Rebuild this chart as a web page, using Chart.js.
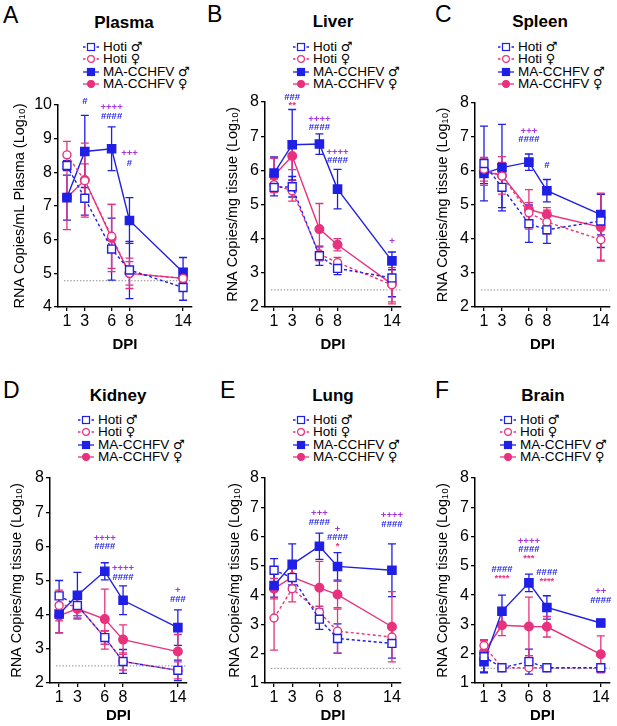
<!DOCTYPE html>
<html>
<head>
<meta charset="utf-8">
<script src="https://cdn.jsdelivr.net/npm/chart.js@4.4.1/dist/chart.umd.min.js"></script>
<style>
  html, body { margin: 0; padding: 0; background: #fff; }
  body { width: 617px; height: 726px; position: relative; overflow: hidden; font-family: 'Liberation Sans', Arial, sans-serif; color: #000; }
  canvas { position: absolute; }
  .letter { position: absolute; font-size: 23px; line-height: 23px; }
  .ptitle { position: absolute; font-size: 17px; line-height: 17px; font-weight: bold; text-align: center; width: 160px; }
  .leg { position: absolute; height: 12px; line-height: 12px; font-size: 13.5px; white-space: nowrap; display: flex; align-items: center; }
  .leg svg { margin-right: 4px; flex: none; }
  .sym { font-family: 'DejaVu Sans', sans-serif; font-size: 13px; }
</style>
</head>
<body>
<script>
// ---------- shared categories / labels ----------
const days = [1, 3, 6, 8, 14];
const dayTicks = [1, 3, 6, 8, 14];
const seriesGroups = ['Hoti', 'Hoti', 'MA-CCHFV', 'MA-CCHFV'];
const seriesSex = ['♂', '♀', '♂', '♀'];
const seriesNames = seriesGroups.map((g, i) => g + ' ' + seriesSex[i]);
const panelLetters = ['A', 'B', 'C', 'D', 'E', 'F'];
const panelTitles = ['Plasma', 'Liver', 'Spleen', 'Kidney', 'Lung', 'Brain'];
const yTitles = ['RNA Copies/mL Plasma (Log₁₀)', 'RNA Copies/mg tissue (Log₁₀)', 'RNA Copies/mg tissue (Log₁₀)',
                 'RNA Copies/mg tissue (Log₁₀)', 'RNA Copies/mg tissue (Log₁₀)', 'RNA Copies/mg tissue (Log₁₀)'];
const yMins = [4, 2, 2, 2, 1, 1];
const yMaxs = [10, 8, 8, 8, 8, 8];
const lodValues = [4.78, 2.5, 2.5, 2.5, 1.5, 1.5];

// ---------- Plasma ----------
const plasmaHotiM = [8.2, 7.23, 5.72, 5.1, 4.58];
const plasmaHotiMErr = [0.15, 0.5, 0.92, 0.85, 0.38];
const plasmaHotiF = [8.52, 7.75, 6.1, 5.0, 4.85];
const plasmaHotiFErr = [0.4, 0.5, 0.95, 0.45, 0.1];
const plasmaMaM = [7.25, 8.62, 8.7, 6.57, 5.03];
const plasmaMaMErr = [0.67, 1.07, 0.65, 0.68, 0.44];
const plasmaMaF = [7.25, 7.77, 6.05, 5.0, 4.85];
const plasmaMaFErr = [0.95, 1.1, 1.0, 0.35, 0.12];
const plasmaMarks = [[3, 10.1, '#'], [6, 9.92, '++++'], [6, 9.66, '####'], [8, 8.56, '+++'], [8, 8.28, '#']];

// ---------- Liver ----------
const liverHotiM = [5.5, 5.52, 3.5, 3.13, 2.85];
const liverHotiMErr = [0.25, 0.3, 0.28, 0.18, 0.55];
const liverHotiF = [5.58, 5.4, 3.55, 3.3, 2.65];
const liverHotiFErr = [0.2, 0.3, 0.2, 0.15, 0.5];
const liverMaM = [5.92, 6.75, 6.77, 5.45, 3.35];
const liverMaMErr = [0.47, 1.03, 0.3, 0.58, 0.26];
const liverMaF = [5.85, 6.42, 4.28, 3.82, 2.67];
const liverMaFErr = [0.5, 0.4, 0.75, 0.18, 0.58];
const liverMarks = [[3, 8.15, '###'], [3, 7.9, '**'], [6, 7.5, '++++'], [6, 7.27, '####'], [8, 6.53, '++++'], [8, 6.3, '####'], [14, 3.93, '+']];

// ---------- Spleen ----------
const spleenHotiM = [6.22, 5.52, 4.45, 4.27, 4.53];
const spleenHotiMErr = [1.1, 0.6, 0.55, 0.4, 0.78];
const spleenHotiF = [6.05, 5.85, 4.77, 4.5, 3.98];
const spleenHotiFErr = [0.35, 0.4, 0.3, 0.35, 0.6];
const spleenMaM = [5.93, 6.1, 6.26, 5.42, 4.72];
const spleenMaMErr = [0.3, 1.27, 0.24, 0.33, 0.6];
const spleenMaF = [5.98, 5.87, 4.87, 4.72, 4.35];
const spleenMaFErr = [0.4, 0.55, 0.58, 0.2, 1.0];
const spleenMarks = [[6, 7.16, '+++'], [6, 6.92, '####'], [8, 6.18, '#']];

// ---------- Kidney ----------
const kidneyHotiM = [4.55, 4.27, 3.33, 2.63, 2.37];
const kidneyHotiMErr = [0.45, 0.3, 0.2, 0.35, 0.3];
const kidneyHotiF = [4.27, 4.27, 3.33, 2.63, 2.37];
const kidneyHotiFErr = [0.45, 0.3, 0.2, 0.25, 0.25];
const kidneyMaM = [4.02, 4.57, 5.27, 4.42, 3.62];
const kidneyMaMErr = [0.55, 0.67, 0.25, 0.42, 0.52];
const kidneyMaF = [3.97, 4.17, 3.87, 3.27, 2.92];
const kidneyMaFErr = [0.5, 0.3, 0.88, 0.43, 0.5];
const kidneyMarks = [[6, 6.24, '++++'], [6, 6.0, '####'], [8, 5.35, '++++'], [8, 5.1, '####'], [14, 4.71, '+'], [14, 4.44, '###']];

// ---------- Lung ----------
const lungHotiM = [4.85, 4.6, 3.18, 2.52, 2.35];
const lungHotiMErr = [0.4, 0.3, 0.35, 0.5, 0.5];
const lungHotiF = [3.22, 4.22, 3.42, 2.77, 2.57];
const lungHotiFErr = [1.1, 0.45, 0.2, 0.75, 0.3];
const lungMaM = [4.33, 5.05, 5.67, 4.98, 4.85];
const lungMaMErr = [0.4, 0.7, 0.45, 0.47, 0.9];
const lungMaF = [4.22, 4.62, 4.25, 4.02, 2.92];
const lungMaFErr = [0.35, 0.3, 0.9, 0.45, 1.2];
const lungMarks = [[6, 6.8, '+++'], [6, 6.48, '####'], [8, 6.26, '+'], [8, 5.97, '####'], [8, 5.66, '*'], [14, 6.72, '++++'], [14, 6.43, '####']];

// ---------- Brain ----------
const brainHotiM = [1.9, 1.52, 1.73, 1.52, 1.52];
const brainHotiMErr = [0.55, 0, 0.43, 0, 0];
const brainHotiF = [2.28, 1.52, 1.52, 1.52, 1.52];
const brainHotiFErr = [0.2, 0, 0, 0, 0];
const brainMaM = [1.73, 3.45, 4.42, 3.58, 3.05];
const brainMaMErr = [0.35, 0.55, 0.3, 0.4, 0.12];
const brainMaF = [2.05, 2.97, 2.93, 2.92, 1.98];
const brainMaFErr = [0.4, 0.35, 1.0, 0.35, 0.63];
const brainMarks = [[3, 4.89, '####'], [3, 4.57, '****'], [6, 5.84, '++++'], [6, 5.55, '####'], [6, 5.24, '***'], [8, 4.79, '####'], [8, 4.47, '****'], [14, 4.13, '++'], [14, 3.82, '####']];

const panelValues = [
  [plasmaHotiM, plasmaHotiF, plasmaMaM, plasmaMaF],
  [liverHotiM, liverHotiF, liverMaM, liverMaF],
  [spleenHotiM, spleenHotiF, spleenMaM, spleenMaF],
  [kidneyHotiM, kidneyHotiF, kidneyMaM, kidneyMaF],
  [lungHotiM, lungHotiF, lungMaM, lungMaF],
  [brainHotiM, brainHotiF, brainMaM, brainMaF]
];
const panelErrors = [
  [plasmaHotiMErr, plasmaHotiFErr, plasmaMaMErr, plasmaMaFErr],
  [liverHotiMErr, liverHotiFErr, liverMaMErr, liverMaFErr],
  [spleenHotiMErr, spleenHotiFErr, spleenMaMErr, spleenMaFErr],
  [kidneyHotiMErr, kidneyHotiFErr, kidneyMaMErr, kidneyMaFErr],
  [lungHotiMErr, lungHotiFErr, lungMaMErr, lungMaFErr],
  [brainHotiMErr, brainHotiFErr, brainMaMErr, brainMaFErr]
];
const panelMarks = [plasmaMarks, liverMarks, spleenMarks, kidneyMarks, lungMarks, brainMarks];

// ---------- styling / layout ----------
const BLUE = '#1f1fe6';
const PINK = '#e8327d';
const PURPLE = '#a833e0';
const FONT = "'Liberation Sans', Arial, sans-serif";
const seriesStyles = [
  { color: BLUE, dashed: true, shape: 'rect', filled: false, radius: 5.6 },
  { color: PINK, dashed: true, shape: 'circle', filled: false, radius: 4 },
  { color: BLUE, dashed: false, shape: 'rect', filled: true, radius: 5.8 },
  { color: PINK, dashed: false, shape: 'circle', filled: true, radius: 4.3 }
];
const layouts = [
  { left: 0,   top: 0,   w: 205, h: 355, l: 58, r: 192, t: 105, b: 307, tp: 11, legX: 83,  legY: 47,  titleCx: 124, titleTop: 14,  letX: 3,   letTop: 4 },
  { left: 205, top: 0,   w: 205, h: 355, l: 60, r: 196, t: 102, b: 307, tp: 19, legX: 293, legY: 47,  titleCx: 333, titleTop: 13,  letX: 207, letTop: 3 },
  { left: 410, top: 0,   w: 207, h: 355, l: 65, r: 205, t: 103, b: 307, tp: 24, legX: 498, legY: 47,  titleCx: 540, titleTop: 13,  letX: 435, letTop: 3 },
  { left: 0,   top: 370, w: 205, h: 356, l: 50, r: 187, t: 108, b: 313, tp: 8,  legX: 78,  legY: 420, titleCx: 118, titleTop: 387, letX: 3,   letTop: 379 },
  { left: 205, top: 370, w: 205, h: 356, l: 60, r: 196, t: 108, b: 313, tp: 21, legX: 293, legY: 420, titleCx: 333, titleTop: 387, letX: 220, letTop: 379 },
  { left: 410, top: 370, w: 207, h: 356, l: 65, r: 201, t: 108, b: 313, tp: 24, legX: 500, legY: 420, titleCx: 543, titleTop: 387, letX: 435, letTop: 379 }
];

function markColor(txt) {
  if (txt[0] === '#') return BLUE;
  if (txt[0] === '*') return PINK;
  return PURPLE;
}

// ---------- plugins ----------
const lodPlugin = {
  id: 'lod',
  beforeDatasetsDraw(chart, args, opts) {
    const { ctx, chartArea, scales: { y } } = chart;
    const py = y.getPixelForValue(opts.value);
    ctx.save();
    ctx.strokeStyle = '#8a8a8a';
    ctx.lineWidth = 1;
    ctx.setLineDash([1.4, 1.8]);
    ctx.beginPath();
    ctx.moveTo(chartArea.left + 6, py);
    ctx.lineTo(chartArea.right, py);
    ctx.stroke();
    ctx.restore();
  }
};
const errorBarPlugin = {
  id: 'errbars',
  beforeDatasetsDraw(chart) {
    const { ctx, scales: { x, y } } = chart;
    chart.data.datasets.forEach((ds) => {
      if (!ds.errors) return;
      ctx.save();
      ctx.strokeStyle = ds.borderColor;
      ctx.lineWidth = 1.3;
      ctx.setLineDash([]);
      ds.data.forEach((p, j) => {
        const e = ds.errors[j];
        if (!e) return;
        const px = x.getPixelForValue(p.x);
        const top = y.getPixelForValue(p.y + e);
        const bot = y.getPixelForValue(p.y - e);
        ctx.beginPath();
        ctx.moveTo(px, top); ctx.lineTo(px, bot);
        ctx.moveTo(px - 4, top); ctx.lineTo(px + 4, top);
        ctx.moveTo(px - 4, bot); ctx.lineTo(px + 4, bot);
        ctx.stroke();
      });
      ctx.restore();
    });
  }
};
const marksPlugin = {
  id: 'sigmarks',
  afterDatasetsDraw(chart, args, opts) {
    const { ctx, scales: { x, y } } = chart;
    ctx.save();
    ctx.textAlign = 'center';
    ctx.textBaseline = 'middle';
    ctx.font = 'bold 9.5px ' + FONT;
    (opts.marks || []).forEach(([mx, my, txt]) => {
      ctx.fillStyle = markColor(txt);
      ctx.fillText(txt, x.getPixelForValue(mx), y.getPixelForValue(my));
    });
    ctx.restore();
  }
};

// ---------- legend markers (HTML) ----------
function legendSvg(st) {
  const dash = st.dashed ? ' stroke-dasharray="2.5,2"' : '';
  const fill = st.filled ? st.color : '#fff';
  const marker = st.shape === 'rect'
    ? `<rect x="4.5" y="1.5" width="7" height="7" fill="${fill}" stroke="${st.color}" stroke-width="1.2"/>`
    : `<circle cx="8" cy="5" r="3.4" fill="${fill}" stroke="${st.color}" stroke-width="1.2"/>`;
  return `<svg width="16" height="10" viewBox="0 0 16 10"><line x1="0" y1="5" x2="16" y2="5" stroke="${st.color}" stroke-width="1.3"${dash}/>${marker}</svg>`;
}

// ---------- build panels ----------
layouts.forEach((L, p) => {
  const letter = document.createElement('div');
  letter.className = 'letter';
  letter.style.left = L.letX + 'px';
  letter.style.top = L.letTop + 'px';
  letter.textContent = panelLetters[p];
  document.body.appendChild(letter);

  const title = document.createElement('div');
  title.className = 'ptitle';
  title.style.left = (L.titleCx - 80) + 'px';
  title.style.top = L.titleTop + 'px';
  title.textContent = panelTitles[p];
  document.body.appendChild(title);

  seriesGroups.forEach((g, s) => {
    const row = document.createElement('div');
    row.className = 'leg';
    row.style.left = L.legX + 'px';
    row.style.top = (L.legY - 6 + s * 12.3) + 'px';
    row.innerHTML = legendSvg(seriesStyles[s]) + '<span class="grp"></span>&nbsp;<span class="sym"></span>';
    row.querySelector('.grp').textContent = g;
    row.querySelector('.sym').textContent = seriesSex[s];
    document.body.appendChild(row);
  });

  const cv = document.createElement('canvas');
  cv.width = L.w; cv.height = L.h;
  cv.style.left = L.left + 'px'; cv.style.top = L.top + 'px';
  cv.style.width = L.w + 'px'; cv.style.height = L.h + 'px';
  document.body.appendChild(cv);

  const datasets = seriesNames.map((name, s) => {
    const st = seriesStyles[s];
    return {
      label: name,
      data: days.map((d, i) => ({ x: d, y: panelValues[p][s][i] })),
      errors: panelErrors[p][s],
      borderColor: st.color,
      backgroundColor: st.color,
      borderWidth: 1.4,
      borderDash: st.dashed ? [3, 2.5] : [],
      pointStyle: st.shape,
      pointRadius: st.radius,
      pointHoverRadius: st.radius,
      pointBorderWidth: 1.4,
      pointBorderColor: st.color,
      pointBackgroundColor: st.filled ? st.color : '#ffffff',
      tension: 0,
      fill: false,
      clip: false
    };
  });

  new Chart(cv, {
    type: 'line',
    data: { datasets },
    plugins: [lodPlugin, errorBarPlugin, marksPlugin],
    options: {
      responsive: false,
      animation: false,
      events: [],
      layout: { padding: { top: L.t, right: L.w - L.r, left: 0, bottom: 0 } },
      plugins: {
        legend: { display: false },
        title: { display: false },
        tooltip: { enabled: false },
        lod: { value: lodValues[p] },
        sigmarks: { marks: panelMarks[p] }
      },
      scales: {
        x: {
          type: 'linear',
          min: 0, max: 15,
          afterBuildTicks: (s) => { s.ticks = dayTicks.map(v => ({ value: v })); },
          afterFit: (s) => { s.height = L.h - L.b; },
          grid: { display: true, drawOnChartArea: false, drawTicks: true, tickLength: 4, color: '#000', lineWidth: 1.3 },
          border: { display: true, color: '#000', width: 1.5 },
          ticks: { font: { size: 16, family: FONT }, color: '#000', padding: 1, maxRotation: 0, autoSkip: false },
          title: { display: true, text: 'DPI', color: '#000', font: { size: 15, weight: 'bold', family: FONT }, padding: { top: 0, bottom: 1 } }
        },
        y: {
          min: yMins[p], max: yMaxs[p],
          afterFit: (s) => { s.width = L.l; },
          grid: { display: true, drawOnChartArea: false, drawTicks: true, tickLength: 4, color: '#000', lineWidth: 1.3 },
          border: { display: true, color: '#000', width: 1.5 },
          ticks: { stepSize: 1, font: { size: 16, family: FONT }, color: '#000', padding: 2 },
          title: { display: true, text: yTitles[p], color: '#000', font: { size: 14.5, family: FONT }, padding: { top: L.tp, bottom: 0 } }
        }
      }
    }
  });
});
</script>
</body>
</html>
